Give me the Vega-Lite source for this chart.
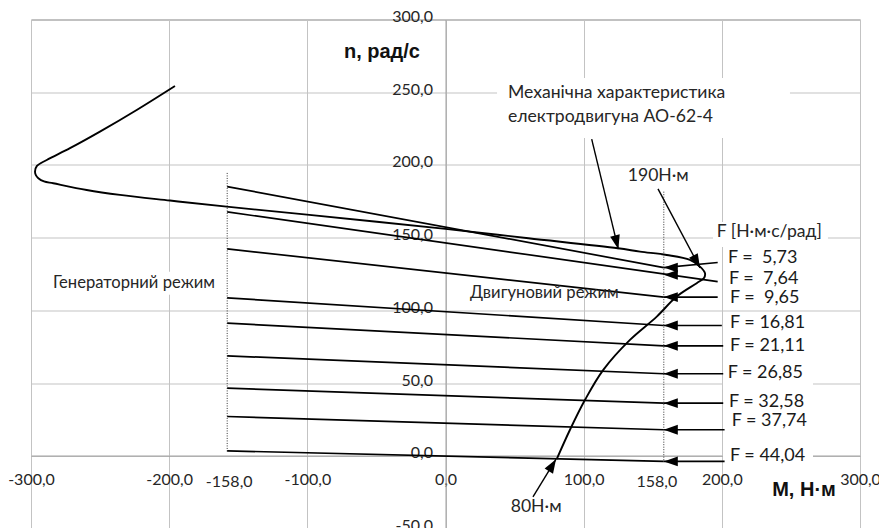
{
  "$schema": "https://vega.github.io/schema/vega-lite/v6.json",
  "width": 829,
  "height": 509,
  "autosize": {"type": "none"},
  "padding": {"left": 31, "top": 19.5, "right": 19, "bottom": 0},
  "background": "white",
  "config": {
    "view": {"stroke": "#7f7f7f", "strokeWidth": 1},
    "axis": {"title": null, "ticks": false, "grid": true, "gridColor": "#c3c3c3", "gridWidth": 1, "domain": true, "domainColor": "#a0a0a0", "labelFont": "Lato", "labelFontSize": 16, "labelColor": "#262626", "labelOverlap": false, "labelFlush": false, "zindex": 0}
  },
  "datasets": {
    "boxes": [
      {"x": 37.3, "x2": 249.3, "y": 218.6, "y2": 259.8},
      {"x": 193.6, "x2": 276.8, "y": 143.5, "y2": 160.8},
      {"x": 200.8, "x2": 266.0, "y": 45.4, "y2": 53.6},
      {"x": 200.8, "x2": 266.0, "y": -4.1, "y2": 4.1},
      {"x": -285.5, "x2": -164.7, "y": 110.7, "y2": 126.5}
    ],
    "dots": [
      {"x": -158, "y": 194.5, "y2": 2.1},
      {"x": 158, "y": 181.6, "y2": -3.9}
    ],
    "segments": [
      {"x": -158, "y": 185.1, "x2": 158, "y2": 129.4},
      {"x": -158, "y": 167.7, "x2": 197, "y2": 119.8},
      {"x": -158, "y": 142.3, "x2": 158, "y2": 109.1},
      {"x": -158, "y": 108.6, "x2": 158, "y2": 89.6},
      {"x": -158, "y": 91.2, "x2": 158, "y2": 75.6},
      {"x": -158, "y": 68.7, "x2": 158, "y2": 56.4},
      {"x": -158, "y": 46.5, "x2": 158, "y2": 36.2},
      {"x": -158, "y": 27.0, "x2": 158, "y2": 17.9},
      {"x": -158, "y": 3.4, "x2": 158, "y2": -3.9},
      {"x": 197, "y": 132.9, "x2": 158, "y2": 129.4},
      {"x": 197, "y": 109.1, "x2": 158, "y2": 109.1},
      {"x": 200, "y": 89.6, "x2": 158, "y2": 89.6},
      {"x": 201, "y": 75.6, "x2": 158, "y2": 75.6},
      {"x": 201, "y": 56.4, "x2": 158, "y2": 56.4},
      {"x": 201, "y": 36.2, "x2": 158, "y2": 36.2},
      {"x": 202, "y": 17.9, "x2": 158, "y2": 17.9},
      {"x": 202, "y": -3.9, "x2": 158, "y2": -3.9}
    ],
    "pointers": [
      {"x": 105.8, "y": 217.7, "x2": 125.1, "y2": 142.1},
      {"x": 153.8, "y": 183.5, "x2": 184.2, "y2": 129.2},
      {"x": 63.3, "y": -28.2, "x2": 80.0, "y2": -2.3}
    ],
    "curve": [
      {"i": 1, "x": -195.8, "y": 254.3},
      {"i": 2, "x": -223.5, "y": 237.8},
      {"i": 3, "x": -250.1, "y": 222.9},
      {"i": 4, "x": -271.8, "y": 211.5},
      {"i": 5, "x": -288.6, "y": 203.4},
      {"i": 6, "x": -295.7, "y": 199.3},
      {"i": 7, "x": -297.1, "y": 195.4},
      {"i": 8, "x": -296.4, "y": 192.8},
      {"i": 9, "x": -294.7, "y": 190.9},
      {"i": 10, "x": -290.6, "y": 188.7},
      {"i": 11, "x": -283.9, "y": 187.4},
      {"i": 12, "x": -259.7, "y": 182.8},
      {"i": 13, "x": -235.6, "y": 179.4},
      {"i": 14, "x": -199.4, "y": 175.5},
      {"i": 15, "x": -158.4, "y": 171.3},
      {"i": 16, "x": -100.3, "y": 165.8},
      {"i": 17, "x": 0, "y": 156.0},
      {"i": 18, "x": 60, "y": 149.6},
      {"i": 19, "x": 124.8, "y": 142.7},
      {"i": 20, "x": 140.8, "y": 140.4},
      {"i": 21, "x": 160.1, "y": 138.1},
      {"i": 22, "x": 176.9, "y": 134.7},
      {"i": 23, "x": 184.2, "y": 130.1},
      {"i": 24, "x": 187.8, "y": 125.6},
      {"i": 25, "x": 187.1, "y": 122.3},
      {"i": 26, "x": 181.8, "y": 118.7},
      {"i": 27, "x": 167.3, "y": 109.5},
      {"i": 28, "x": 152.9, "y": 95.7},
      {"i": 29, "x": 133.5, "y": 79.7},
      {"i": 30, "x": 114.2, "y": 59.1},
      {"i": 31, "x": 101.0, "y": 38.5},
      {"i": 32, "x": 90.1, "y": 17.9},
      {"i": 33, "x": 80.5, "y": -2.3}
    ],
    "heads": [
      {"x": 158, "y": 129.4},
      {"x": 158, "y": 124.4},
      {"x": 158, "y": 109.1},
      {"x": 158, "y": 89.6},
      {"x": 158, "y": 75.6},
      {"x": 158, "y": 56.4},
      {"x": 158, "y": 36.2},
      {"x": 158, "y": 17.9},
      {"x": 158, "y": -3.9}
    ],
    "headM": [{"x": 125.1, "y": 142.1}],
    "head190": [{"x": 184.2, "y": 129.2}],
    "head80": [{"x": 80.0, "y": -2.3}],
    "titles": [
      {"x": -46, "y": 277.7, "label": "n, рад/с"},
      {"x": 259.5, "y": -23.4, "label": "M, Н·м"}
    ],
    "notes": [
      {"x": 45.2, "y": 249.5, "label": "Механічна характеристика"},
      {"x": 45.2, "y": 233.2, "label": "електродвигуна АО-62-4"},
      {"x": 131.9, "y": 192.6, "label": "190Н·м"},
      {"x": 196.3, "y": 154.2, "label": "F [Н·м·с/рад]"},
      {"x": 47.2, "y": -35.3, "label": "80Н·м"}
    ],
    "flabels": [
      {"x": 204.4, "y": 135.9, "label": "F = \u00a05,73"},
      {"x": 205.1, "y": 121.6, "label": "F = \u00a07,64"},
      {"x": 205.9, "y": 108.4, "label": "F = \u00a09,65"},
      {"x": 205.9, "y": 91.6, "label": "F = 16,81"},
      {"x": 205.9, "y": 75.6, "label": "F = 21,11"},
      {"x": 204.2, "y": 56.8, "label": "F = 26,85"},
      {"x": 205.1, "y": 37.3, "label": "F = 32,58"},
      {"x": 207.1, "y": 23.6, "label": "F = 37,74"},
      {"x": 205.9, "y": 0, "label": "F = 44,04"}
    ],
    "modes": [
      {"x": -284.1, "y": 118.7, "label": "Генераторний режим"},
      {"x": 17.7, "y": 111.8, "label": "Двигуновий режим"}
    ],
    "negtick": [{"x": -158, "y": -17.7, "label": "-158,0"}],
    "postick": [{"x": 158, "y": -17.7, "label": "158,0"}]
  },
  "encoding": {
    "x": {
      "field": "x", "type": "quantitative",
      "scale": {"domain": [-300, 300], "nice": false, "zero": false},
      "axis": {
        "values": [-300, -200, -100, 0, 100, 200, 300],
        "labelExpr": "replace(replace(format(datum.value, '.1f'), '.', ','), '\u2212', '-')",
        "offset": -72.75,
        "labelPadding": 24,
        "labelBaseline": "middle"
      }
    },
    "y": {
      "field": "y", "type": "quantitative",
      "scale": {"domain": [-50, 300], "nice": false, "zero": false},
      "axis": {
        "values": [-50, 0, 50, 100, 150, 200, 250, 300],
        "labelExpr": "replace(replace(format(datum.value, '.1f'), '.', ','), '\u2212', '-')",
        "offset": -414.5,
        "labelPadding": 13,
        "labelOffset": -3
      }
    }
  },
  "layer": [
    {
      "data": {"name": "boxes"},
      "mark": {"type": "rect", "fill": "white", "strokeWidth": 0},
      "encoding": {"x2": {"field": "x2"}, "y2": {"field": "y2"}}
    },
    {
      "data": {"name": "dots"},
      "mark": {"type": "rule", "color": "#333333", "strokeWidth": 1, "strokeDash": [1, 1.5]},
      "encoding": {"y2": {"field": "y2"}}
    },
    {
      "data": {"name": "segments"},
      "mark": {"type": "rule", "color": "black", "strokeWidth": 1.7},
      "encoding": {"x2": {"field": "x2"}, "y2": {"field": "y2"}}
    },
    {
      "data": {"name": "pointers"},
      "mark": {"type": "rule", "color": "black", "strokeWidth": 1.4},
      "encoding": {"x2": {"field": "x2"}, "y2": {"field": "y2"}}
    },
    {
      "data": {"name": "curve"},
      "mark": {"type": "line", "color": "black", "strokeWidth": 1.9, "interpolate": "catmull-rom"},
      "encoding": {"order": {"field": "i", "type": "quantitative"}}
    },
    {
      "data": {"name": "heads"},
      "mark": {"type": "point", "shape": "M0,0L2,-0.7L2,0.7Z", "size": 196, "filled": true, "color": "black", "opacity": 1, "strokeWidth": 0}
    },
    {
      "data": {"name": "headM"},
      "mark": {"type": "point", "shape": "M0,0L2,-0.7L2,0.7Z", "size": 196, "filled": true, "color": "black", "opacity": 1, "strokeWidth": 0, "angle": 256}
    },
    {
      "data": {"name": "head190"},
      "mark": {"type": "point", "shape": "M0,0L2,-0.7L2,0.7Z", "size": 196, "filled": true, "color": "black", "opacity": 1, "strokeWidth": 0, "angle": 242}
    },
    {
      "data": {"name": "head80"},
      "mark": {"type": "point", "shape": "M0,0L2,-0.7L2,0.7Z", "size": 196, "filled": true, "color": "black", "opacity": 1, "strokeWidth": 0, "angle": 121}
    },
    {
      "data": {"name": "titles"},
      "mark": {"type": "text", "font": "Liberation Sans", "fontWeight": "bold", "fontSize": 20, "align": "center", "baseline": "middle", "color": "#111111"},
      "encoding": {"text": {"field": "label"}}
    },
    {
      "data": {"name": "notes"},
      "mark": {"type": "text", "font": "Lato", "fontSize": 17.6, "align": "left", "baseline": "middle", "color": "#262626"},
      "encoding": {"text": {"field": "label"}}
    },
    {
      "data": {"name": "flabels"},
      "mark": {"type": "text", "font": "Lato", "fontSize": 18, "align": "left", "baseline": "middle", "color": "#1a1a1a"},
      "encoding": {"text": {"field": "label"}}
    },
    {
      "data": {"name": "modes"},
      "mark": {"type": "text", "font": "Lato", "fontSize": 16.6, "align": "left", "baseline": "middle", "color": "#262626"},
      "encoding": {"text": {"field": "label"}}
    },
    {
      "data": {"name": "negtick"},
      "mark": {"type": "text", "font": "Lato", "fontSize": 16, "align": "center", "baseline": "middle", "color": "#262626", "dx": 2},
      "encoding": {"text": {"field": "label"}}
    },
    {
      "data": {"name": "postick"},
      "mark": {"type": "text", "font": "Lato", "fontSize": 16, "align": "center", "baseline": "middle", "color": "#262626", "dx": -7},
      "encoding": {"text": {"field": "label"}}
    }
  ]
}
